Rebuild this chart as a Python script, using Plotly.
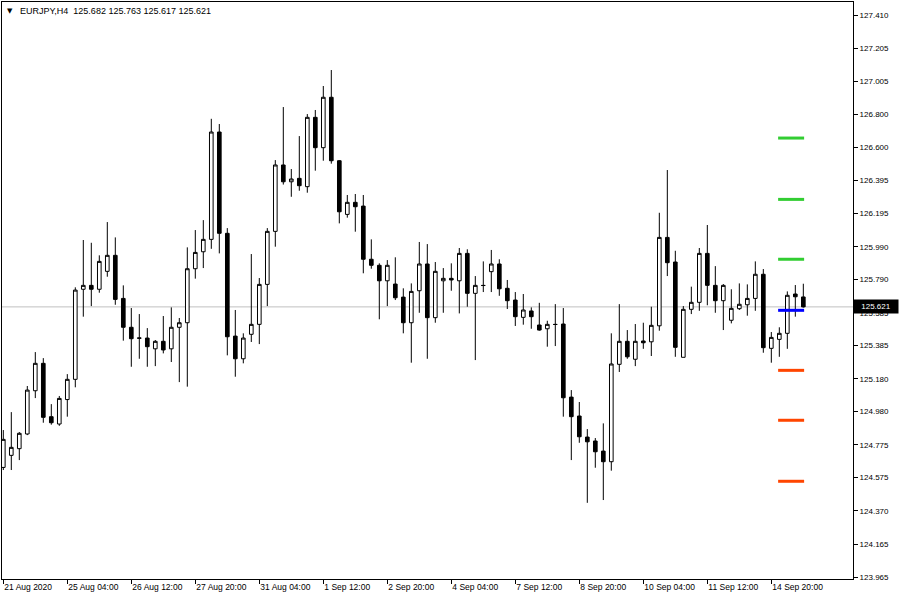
import plotly.graph_objects as go

# ---- data (EURJPY H4) ----
opens = [124.637, 124.711, 124.752, 124.842, 125.107, 125.275, 124.948, 124.903, 125.053, 125.177,
         125.729, 125.753, 125.729, 125.839, 125.937, 125.673, 125.496, 125.431, 125.430, 125.364,
         125.410, 125.364, 125.496, 125.524, 125.855, 125.959, 126.035, 126.693, 126.072, 125.442,
         125.303, 125.453, 125.514, 125.759, 126.084, 126.491, 126.388, 126.409, 126.358, 126.783,
         126.597, 126.906, 126.517, 126.188, 126.262, 126.239, 125.913, 125.876, 125.781, 125.761,
         125.681, 125.524, 125.720, 125.884, 125.555, 125.781, 125.796, 125.781, 125.949, 125.704,
         125.753, 125.837, 125.884, 125.735, 125.663, 125.557, 125.596, 125.510, 125.487, 125.514,
         125.516, 125.068, 124.952, 124.823, 124.799, 124.737, 124.672, 125.269, 125.410, 125.300,
         125.412, 125.407, 125.505, 126.047, 125.896, 125.312, 125.606, 125.649, 125.949, 125.753,
         125.659, 125.539, 125.610, 125.634, 125.673, 125.821, 125.367, 125.422, 125.459, 125.700,
         125.682]
highs = [124.866, 124.976, 124.854, 125.136, 125.344, 125.307, 125.025, 125.075, 125.209, 125.741,
         126.031, 126.014, 125.937, 126.141, 126.047, 125.753, 125.614, 125.577, 125.491, 125.418,
         125.565, 125.618, 125.553, 125.986, 126.092, 126.153, 126.774, 126.742, 126.104, 125.602,
         125.459, 125.945, 125.798, 126.104, 126.521, 126.846, 126.466, 126.668, 126.803, 126.828,
         126.975, 127.073, 126.521, 126.307, 126.313, 126.307, 126.035, 125.888, 125.908, 125.925,
         125.735, 125.765, 126.019, 126.006, 125.896, 125.859, 125.888, 125.982, 125.974, 125.810,
         125.900, 125.970, 125.913, 125.786, 125.712, 125.700, 125.618, 125.646, 125.536, 125.638,
         125.614, 125.111, 125.038, 124.872, 124.817, 124.907, 125.459, 125.638, 125.479, 125.516,
         125.524, 125.622, 126.198, 126.460, 125.965, 125.626, 125.745, 125.982, 126.123, 125.871,
         125.761, 125.729, 125.765, 125.759, 125.900, 125.853, 125.467, 125.496, 125.716, 125.755,
         125.763]
lows = [124.621, 124.621, 124.682, 124.835, 125.062, 124.911, 124.899, 124.892, 124.948, 125.128,
        125.561, 125.626, 125.708, 125.806, 125.634, 125.414, 125.254, 125.303, 125.254, 125.258,
        125.336, 125.283, 125.160, 125.132, 125.794, 125.859, 125.977, 125.949, 125.324, 125.193,
        125.275, 125.406, 125.393, 125.626, 125.990, 126.371, 126.296, 126.333, 126.321, 126.456,
        126.517, 126.499, 126.133, 126.168, 126.082, 125.827, 125.855, 125.545, 125.626, 125.663,
        125.459, 125.279, 125.585, 125.303, 125.524, 125.585, 125.720, 125.581, 125.622, 125.295,
        125.712, 125.712, 125.689, 125.608, 125.504, 125.512, 125.487, 125.475, 125.377, 125.381,
        124.948, 124.682, 124.788, 124.420, 124.635, 124.437, 124.617, 125.222, 125.303, 125.258,
        125.364, 125.320, 125.475, 125.810, 125.315, 125.312, 125.577, 125.597, 125.631, 125.585,
        125.479, 125.520, 125.602, 125.567, 125.597, 125.340, 125.279, 125.315, 125.364, 125.561,
        125.617]
closes = [124.809, 124.760, 124.846, 125.111, 125.275, 124.944, 124.911, 125.060, 125.177, 125.724,
          125.753, 125.729, 125.900, 125.937, 125.667, 125.496, 125.426, 125.429, 125.377, 125.410,
          125.357, 125.496, 125.524, 125.855, 125.955, 126.035, 126.693, 126.072, 125.438, 125.303,
          125.430, 125.514, 125.759, 126.084, 126.491, 126.388, 126.405, 126.364, 126.783, 126.597,
          126.906, 126.517, 126.204, 126.262, 126.235, 125.913, 125.876, 125.781, 125.876, 125.677,
          125.524, 125.716, 125.884, 125.555, 125.839, 125.796, 125.786, 125.949, 125.704, 125.753,
          125.752, 125.884, 125.732, 125.659, 125.561, 125.602, 125.561, 125.479, 125.514, 125.513,
          125.064, 124.948, 124.825, 124.794, 124.733, 124.672, 125.271, 125.410, 125.315, 125.410,
          125.401, 125.508, 126.047, 125.892, 125.373, 125.606, 125.649, 125.949, 125.753, 125.659,
          125.753, 125.612, 125.637, 125.673, 125.821, 125.371, 125.434, 125.459, 125.692, 125.683,
          125.621]

x_tick_bars = [0, 8, 16, 24, 32, 40, 48, 56, 64, 72, 80, 88, 96]
x_tick_labels = ["21 Aug 2020", "25 Aug 04:00", "26 Aug 12:00", "27 Aug 20:00", "31 Aug 04:00",
                 "1 Sep 12:00", "2 Sep 20:00", "4 Sep 04:00", "7 Sep 12:00", "8 Sep 20:00",
                 "10 Sep 04:00", "11 Sep 12:00", "14 Sep 20:00"]
y_tick_labels = ["127.410", "127.205", "127.005", "126.800", "126.600", "126.395", "126.195",
                 "125.990", "125.790", "125.585", "125.385", "125.180", "124.980", "124.775",
                 "124.575", "124.370", "124.165", "123.965"]

resistance_levels = [126.656, 126.280, 125.913]
pivot_levels = [125.600]
support_levels = [125.232, 124.926, 124.552]

symbol = "EURJPY,H4"
bid_price = 125.621

# ---- figure ----
n = len(closes)
bars = list(range(n))
fig = go.Figure()

fig.add_trace(go.Candlestick(
    x=bars, open=opens, high=highs, low=lows, close=closes,
    increasing=dict(line=dict(color="black", width=1), fillcolor="white"),
    decreasing=dict(line=dict(color="black", width=1), fillcolor="black"),
    whiskerwidth=0, hoverinfo="skip", showlegend=False,
))

lvl_x = [n - 1 - 3.15, n - 1 + 0.1]
for levels, col in ((resistance_levels, "#32CD32"), (pivot_levels, "#0000FF"), (support_levels, "#FF4500")):
    for lv in levels:
        fig.add_trace(go.Scatter(x=lvl_x, y=[lv, lv], mode="lines",
                                 line=dict(color=col, width=3), hoverinfo="skip", showlegend=False))

# current bid line
fig.add_shape(type="line", xref="paper", x0=0, x1=1, yref="y", y0=bid_price, y1=bid_price,
              line=dict(color="#C0C0C0", width=1), layer="below")

font_main = "Tahoma, Liberation Sans, Arial, sans-serif"

fig.add_annotation(xref="paper", yref="y", x=1.0, y=bid_price, xanchor="left", yanchor="middle",
                   text=f"{bid_price:.3f}", showarrow=False, bgcolor="black", width=42, height=11,
                   borderpad=1, align="center", font=dict(color="white", size=8, family=font_main))

fig.add_annotation(xref="paper", yref="paper", x=0.0035, y=0.9845, xanchor="left", yanchor="middle",
                   text="▼", showarrow=False, font=dict(color="black", size=7, family="DejaVu Sans"))
fig.add_annotation(xref="paper", yref="paper", x=0.0185, y=0.985, xanchor="left", yanchor="middle",
                   text=symbol + "\u00a0\u00a0" + " ".join(f"{v:.3f}" for v in (opens[-1], highs[-1], lows[-1], closes[-1])),
                   showarrow=False, font=dict(color="black", size=9, family=font_main))

fig.update_layout(
    width=900, height=600,
    margin=dict(l=2, r=47, t=2, b=21),
    paper_bgcolor="white", plot_bgcolor="white",
    showlegend=False,
    boxgap=0.35,
    xaxis=dict(range=[-0.1625, 106.21], rangeslider=dict(visible=False), showgrid=False, zeroline=False,
               showline=True, mirror=True, linecolor="black", linewidth=1,
               tickmode="array", tickvals=x_tick_bars, ticktext=x_tick_labels,
               ticks="outside", ticklen=4, tickcolor="black", tickwidth=1,
               ticklabelposition="outside right",
               tickfont=dict(size=8.5, color="black", family=font_main)),
    yaxis=dict(range=[123.953, 127.490], side="right", showgrid=False, zeroline=False,
               showline=True, mirror=True, linecolor="black", linewidth=1,
               tickmode="array", tickvals=[float(v) for v in y_tick_labels], ticktext=y_tick_labels,
               ticks="outside", ticklen=4, tickcolor="black", tickwidth=1,
               tickfont=dict(size=8, color="black", family=font_main)),
)

fig.write_html("out.html", config={"displayModeBar": False},
               post_script="document.body.style.margin='0';document.body.style.overflow='hidden';")
